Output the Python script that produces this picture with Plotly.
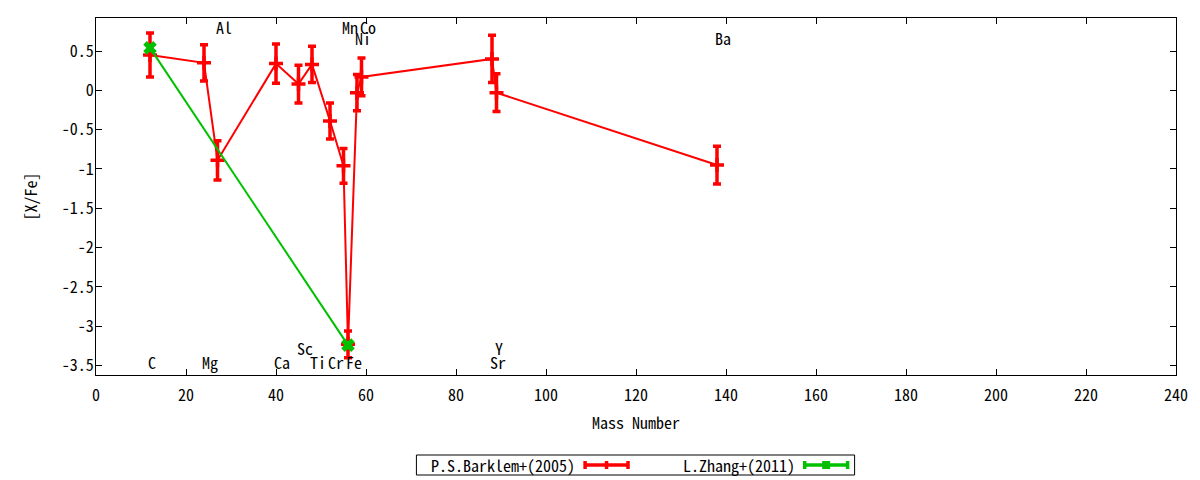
import plotly.graph_objects as go

# P.S.Barklem+(2005)
elements = ['C', 'Mg', 'Al', 'Ca', 'Sc', 'Ti', 'Cr', 'Mn', 'Fe', 'Ni', 'Co', 'Sr', 'Y', 'Ba']
mass_number = [12, 24, 27, 40, 45, 48, 52, 55, 56, 58, 59, 88, 89, 138]
barklem_xfe = [0.45, 0.35, -0.89, 0.34, 0.08, 0.33, -0.39, -0.96, -3.23, -0.03, 0.17, 0.40, -0.03, -0.95]
barklem_err = [0.28, 0.23, 0.25, 0.25, 0.24, 0.23, 0.23, 0.22, 0.17, 0.23, 0.24, 0.30, 0.24, 0.24]

# L.Zhang+(2011)
zhang_mass = [12, 56]
zhang_xfe = [0.54, -3.24]
zhang_err = [0.03, 0.03]

# element name labels (y position in data units)
label_y = [-3.46, -3.46, 0.8, -3.46, -3.28, -3.46, -3.46, 0.8, -3.46, 0.67, 0.8, -3.46, -3.28, 0.67]

yticks = [0.5, 0, -0.5, -1, -1.5, -2, -2.5, -3, -3.5]
ytick_text = ['0.5', '0', '-0.5', '-1', '-1.5', '-2', '-2.5', '-3', '-3.5']

RED = '#ff0000'
GREEN = '#00c000'
FONT = 'Noto Sans Mono CJK JP, DejaVu Sans Mono, monospace'
FS = 16

W, H = 1200, 480
ML, MR, MT, MB = 96, 22, 18, 105
PW, PH = W - ML - MR, H - MT - MB


def px(x):
    return (x - ML) / PW


def py(y):
    return (H - MB - y) / PH


fig = go.Figure()

fig.add_trace(go.Scatter(
    x=mass_number, y=barklem_xfe,
    mode='lines+markers',
    line=dict(color=RED, width=2),
    marker=dict(symbol='cross-thin', size=10, line=dict(color=RED, width=3.5)),
    error_y=dict(type='data', array=barklem_err, color=RED, thickness=3.5, width=4),
    showlegend=False,
))

fig.add_trace(go.Scatter(
    x=zhang_mass, y=zhang_xfe,
    mode='lines+markers',
    line=dict(color=GREEN, width=2),
    marker=dict(symbol='x-thin', size=10, line=dict(color=GREEN, width=5)),
    error_y=dict(type='data', array=zhang_err, color=GREEN, thickness=3.5, width=4),
    showlegend=False,
))

annotations = []
for name, m, ly in zip(elements, mass_number, label_y):
    annotations.append(dict(x=m, y=ly, xref='x', yref='y', text=name,
                            showarrow=False, xanchor='left', yanchor='middle',
                            xshift=-4, font=dict(family=FONT, size=FS, color='black')))

# legend (gnuplot style: text then sample)
shapes = [dict(type='rect', xref='paper', yref='paper',
               x0=px(417), x1=px(856), y0=py(475), y1=py(455),
               line=dict(color='black', width=1))]
for label, tx, s0, s1, col in [('P.S.Barklem+(2005)', 578, 586, 629, RED),
                               ('L.Zhang+(2011)', 798, 806, 849, GREEN)]:
    annotations.append(dict(x=px(tx), y=py(465), xref='paper', yref='paper', text=label,
                            showarrow=False, xanchor='right', yanchor='middle',
                            font=dict(family=FONT, size=FS, color='black')))
    shapes.append(dict(type='line', xref='paper', yref='paper', x0=px(s0), x1=px(s1),
                       y0=py(465), y1=py(465), line=dict(color=col, width=3.5)))
    for cx in (s0, s1):
        shapes.append(dict(type='line', xref='paper', yref='paper', x0=px(cx), x1=px(cx),
                           y0=py(461), y1=py(469), line=dict(color=col, width=3.5)))
    mid = (s0 + s1) / 2
    if col == RED:
        shapes.append(dict(type='line', xref='paper', yref='paper', x0=px(mid), x1=px(mid),
                           y0=py(461), y1=py(469), line=dict(color=col, width=3.5)))
    else:
        shapes.append(dict(type='rect', xref='paper', yref='paper', x0=px(mid - 4), x1=px(mid + 4),
                           y0=py(469), y1=py(461), line=dict(width=0), fillcolor=col))

fig.update_layout(
    width=W, height=H,
    margin=dict(l=ML, r=MR, t=MT, b=MB),
    plot_bgcolor='white', paper_bgcolor='white',
    font=dict(family=FONT, size=FS, color='black'),
    annotations=annotations,
    shapes=shapes,
)

fig.update_xaxes(
    range=[0, 240], tickmode='linear', tick0=0, dtick=20,
    showgrid=False, zeroline=False,
    showline=True, linecolor='black', linewidth=1, mirror='ticks',
    ticks='inside', ticklen=6, tickcolor='black', ticklabelstandoff=6,
    tickfont=dict(size=FS),
    title=dict(text='Mass Number', standoff=12, font=dict(size=FS)),
)
fig.update_yaxes(
    range=[-3.62, 0.92], tickmode='array', tickvals=yticks, ticktext=ytick_text,
    showgrid=False, zeroline=False,
    showline=True, linecolor='black', linewidth=1, mirror='ticks',
    ticks='inside', ticklen=6, tickcolor='black', ticklabelstandoff=-2,
    tickfont=dict(size=FS),
    title=dict(text='[X/Fe]', standoff=20, font=dict(size=FS)),
)

# the page body has a default 8px margin; drop it so the figure sits at the window origin
fig.write_html("out.html", config={'displayModeBar': False},
               post_script="document.body.style.margin='0';")
